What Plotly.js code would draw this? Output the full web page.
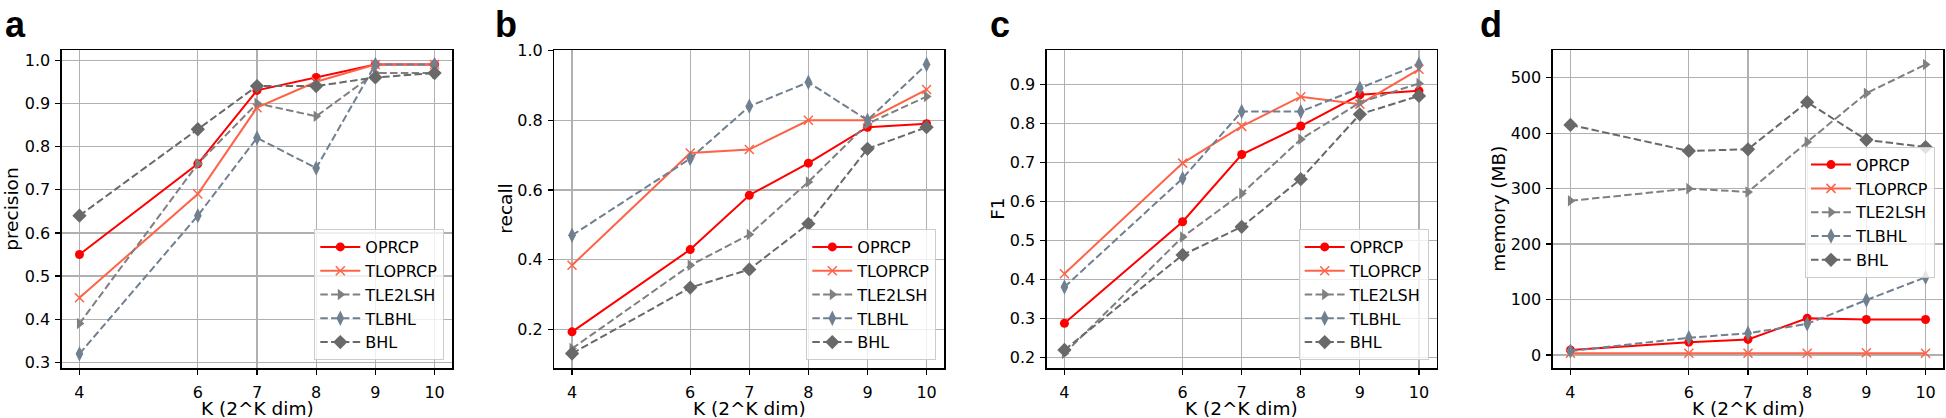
<!DOCTYPE html>
<html>
<head>
<meta charset="utf-8">
<script src="https://cdn.plot.ly/plotly-3.0.1.min.js"></script>
<style>html,body{margin:0;padding:0;background:#fff;}#chart{width:1946px;height:418px;}</style>
</head>
<body>
<div id="chart"></div>
<script>
// ---- data ----
const K = [4, 6, 7, 8, 9, 10];
const seriesNames = ["OPRCP", "TLOPRCP", "TLE2LSH", "TLBHL", "BHL"];

const precOPRCP   = [0.55, 0.76, 0.93, 0.96, 0.99, 0.99];
const precTLOPRCP = [0.45, 0.69, 0.89, 0.95, 0.99, 0.99];
const precTLE2LSH = [0.39, 0.76, 0.90, 0.87, 0.97, 0.97];
const precTLBHL   = [0.32, 0.64, 0.82, 0.75, 0.99, 0.99];
const precBHL     = [0.64, 0.84, 0.94, 0.94, 0.96, 0.97];

const recOPRCP   = [0.193, 0.429, 0.585, 0.677, 0.780, 0.790];
const recTLOPRCP = [0.384, 0.706, 0.716, 0.800, 0.800, 0.888];
const recTLE2LSH = [0.145, 0.384, 0.472, 0.623, 0.790, 0.868];
const recTLBHL   = [0.470, 0.690, 0.840, 0.909, 0.800, 0.960];
const recBHL     = [0.131, 0.320, 0.372, 0.503, 0.718, 0.780];

const f1OPRCP   = [0.288, 0.548, 0.720, 0.793, 0.873, 0.883];
const f1TLOPRCP = [0.415, 0.698, 0.792, 0.868, 0.849, 0.938];
const f1TLE2LSH = [0.211, 0.509, 0.620, 0.759, 0.853, 0.902];
const f1TLBHL   = [0.381, 0.659, 0.830, 0.830, 0.890, 0.951];
const f1BHL     = [0.220, 0.463, 0.535, 0.657, 0.823, 0.870];

const memOPRCP   = [9, 23, 28, 66, 64, 64];
const memTLOPRCP = [3, 3, 3, 3, 4, 3];
const memTLE2LSH = [278, 300, 294, 384, 472, 524];
const memTLBHL   = [7, 31, 39, 56, 99, 140];
const memBHL     = [415, 368, 371, 456, 388, 375];

const panelLetters = ["a", "b", "c", "d"];
const yTitles = ["precision", "recall", "F1", "memory (MB)"];
const xTitle = "K (2^K dim)";

// ---- styling ----
const W = 1946, H = 418;
const FONT = "'DejaVu Sans', DejaVuSans, sans-serif";
const DASH = "7.5px,3.3px";
const styles = [
  {color: "#ff0000", dash: "solid", symbol: "circle", size: 9, lw: 2},
  {color: "#ff6347", dash: "solid", symbol: "x-thin", size: 9, lw: 2},
  {color: "#808080", dash: DASH, symbol: "triangle-right", size: 10, lw: 2},
  {color: "#708090", dash: DASH, symbol: "diamond-tall", size: 11, lw: 2},
  {color: "#696969", dash: DASH, symbol: "diamond", size: 11, lw: 2}
];
const panelData = [
  [precOPRCP, precTLOPRCP, precTLE2LSH, precTLBHL, precBHL],
  [recOPRCP, recTLOPRCP, recTLE2LSH, recTLBHL, recBHL],
  [f1OPRCP, f1TLOPRCP, f1TLE2LSH, f1TLBHL, f1BHL],
  [memOPRCP, memTLOPRCP, memTLE2LSH, memTLBHL, memBHL]
];
const plotX = [[61.7, 452.3], [554.3, 944.3], [1046.7, 1436.7], [1552.7, 1943.3]];
const plotY = [50, 368.3];
const yRanges = [[0.2865, 1.0235], [0.0885, 1.0015], [0.173, 0.9875], [-24.1, 550.1]];
const yDticks = [0.1, 0.2, 0.1, 100];
const yFormats = [".1f", ".1f", ".1f", "d"];
const legendBoxes = [
  {x: 444.3, y: 360, yanchor: "bottom"},
  {x: 936.3, y: 360, yanchor: "bottom"},
  {x: 1428.7, y: 360, yanchor: "bottom"},
  {x: 1935, y: 146.7, yanchor: "top"}
];
const letterX = [3, 493, 988, 1478];
const yTitleX = [10.7, 505.5, 996.7, 1497.7];
const xTitleY = 408;

const traces = [];
const layout = {
  width: W, height: H,
  margin: {l: 0, r: 0, t: 0, b: 0},
  paper_bgcolor: "#ffffff", plot_bgcolor: "#ffffff",
  font: {family: FONT, size: 16, color: "#000"},
  showlegend: true,
  annotations: []
};

for (let p = 0; p < 4; p++) {
  const sfx = p === 0 ? "" : String(p + 1);
  const legName = "legend" + sfx;
  for (let s = 0; s < 5; s++) {
    const st = styles[s];
    traces.push({
      type: "scatter", mode: "lines+markers",
      x: K, y: panelData[p][s], name: seriesNames[s],
      xaxis: "x" + sfx, yaxis: "y" + sfx,
      legend: legName, legendgroup: "p" + p + "s" + s,
      line: {color: st.color, width: st.lw, dash: st.dash},
      marker: {symbol: st.symbol, size: st.size, color: st.color,
               line: {color: st.color, width: st.symbol === "x-thin" ? 1.5 : 0}}
    });
  }
  layout["xaxis" + sfx] = {
    domain: [plotX[p][0] / W, plotX[p][1] / W],
    anchor: "y" + sfx,
    range: [3.7, 10.3],
    tickmode: "array", tickvals: K, ticktext: K.map(String),
    showgrid: true, gridcolor: "#b0b0b0", gridwidth: 1.2,
    showline: true, mirror: true, linecolor: "#000", linewidth: 1.3,
    ticks: "outside", ticklen: 5, tickwidth: 1.2, tickcolor: "#000",
    ticklabelstandoff: 4,
    tickfont: {family: FONT, size: 16, color: "#000"},
    zeroline: false,
    automargin: false
  };
  layout["yaxis" + sfx] = {
    domain: [1 - plotY[1] / H, 1 - plotY[0] / H],
    anchor: "x" + sfx,
    range: yRanges[p],
    tickmode: "linear", tick0: 0, dtick: yDticks[p], tickformat: yFormats[p],
    showgrid: true, gridcolor: "#b0b0b0", gridwidth: 1.2,
    showline: true, mirror: true, linecolor: "#000", linewidth: 1.3,
    ticks: "outside", ticklen: 5, tickwidth: 1.2, tickcolor: "#000",
    ticklabelstandoff: 2,
    tickfont: {family: FONT, size: 16, color: "#000"},
    zeroline: false,
    automargin: false
  };
  const lb = legendBoxes[p];
  layout[legName] = {
    x: lb.x / W, xanchor: "right",
    y: 1 - lb.y / H, yanchor: lb.yanchor,
    bgcolor: "rgba(255,255,255,0.8)", bordercolor: "#cccccc", borderwidth: 1,
    font: {family: FONT, size: 16, color: "#000"},
    itemwidth: 40, tracegroupgap: 0
  };
  // panel letter
  layout.annotations.push({
    xref: "paper", yref: "paper",
    x: letterX[p] / W, y: 1 - 2 / H, xanchor: "left", yanchor: "top",
    text: "<b>" + panelLetters[p] + "</b>", showarrow: false,
    font: {family: "Liberation Sans", size: 36, color: "#000"}
  });
  // x axis title
  layout.annotations.push({
    xref: "paper", yref: "paper",
    x: (plotX[p][0] + plotX[p][1]) / 2 / W, y: 1 - xTitleY / H,
    xanchor: "center", yanchor: "middle", borderpad: 0,
    text: xTitle, showarrow: false,
    font: {family: FONT, size: 18.5, color: "#000"}
  });
  // y axis title
  layout.annotations.push({
    xref: "paper", yref: "paper",
    x: yTitleX[p] / W, y: 1 - (plotY[0] + plotY[1]) / 2 / H,
    xanchor: "center", yanchor: "middle", textangle: -90, borderpad: 0,
    text: yTitles[p], showarrow: false,
    font: {family: FONT, size: 18.5, color: "#000"}
  });
}

Plotly.newPlot("chart", traces, layout, {displayModeBar: false, staticPlot: true});
</script>
</body>
</html>
